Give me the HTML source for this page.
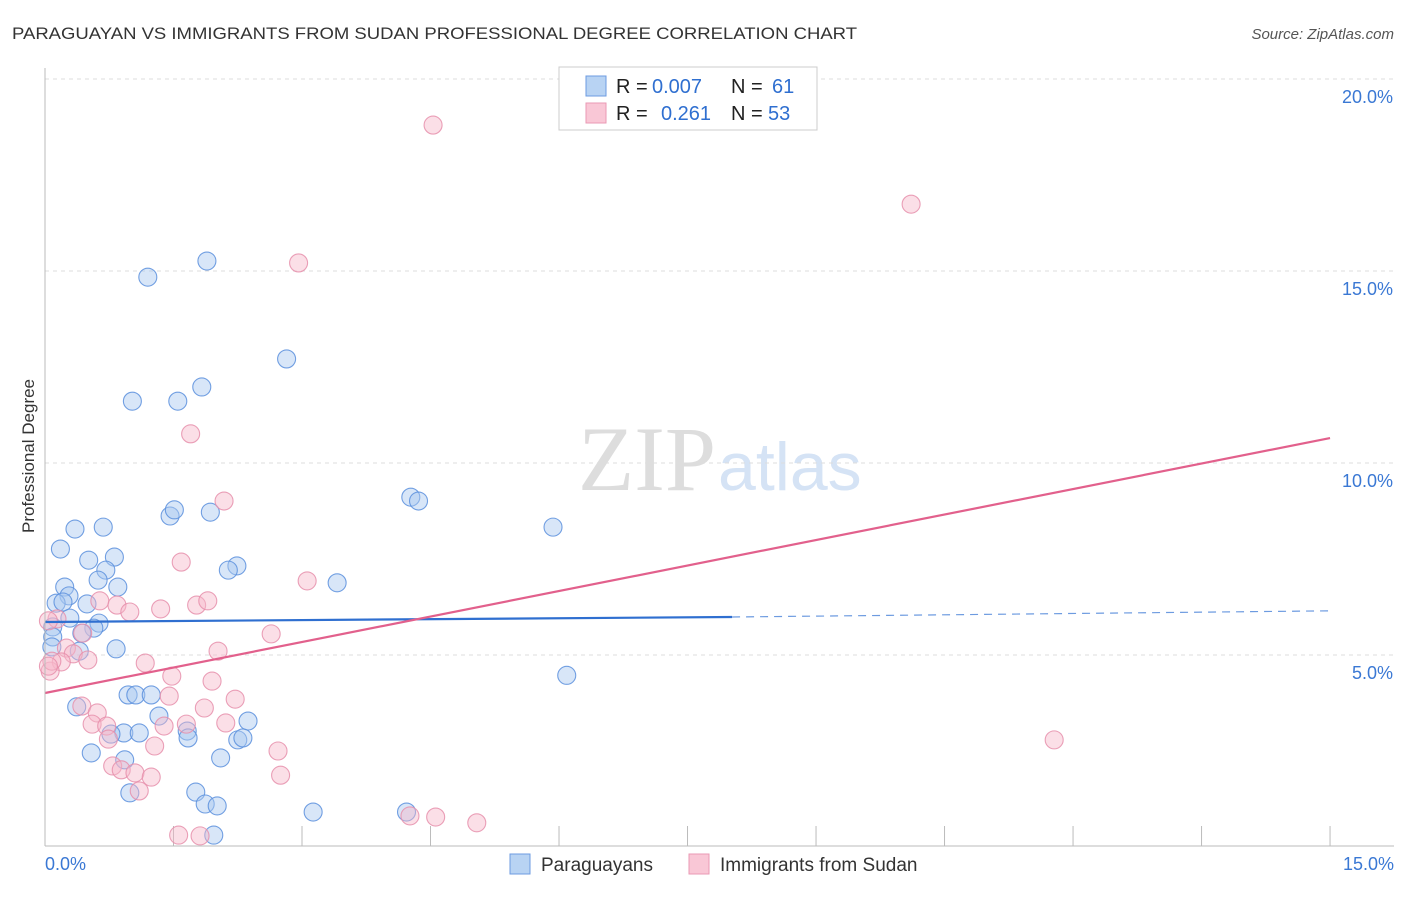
<!DOCTYPE html>
<html><head><meta charset="utf-8"><style>
body{margin:0;background:#fff;font-family:"Liberation Sans",sans-serif}
</style></head><body>
<svg id="c" width="1406" height="892" xmlns="http://www.w3.org/2000/svg" style="font-family:'Liberation Sans',sans-serif">
<text x="12" y="39" font-size="17" fill="#333" textLength="845" lengthAdjust="spacingAndGlyphs">PARAGUAYAN VS IMMIGRANTS FROM SUDAN PROFESSIONAL DEGREE CORRELATION CHART</text>
<text x="1394" y="39" font-size="15" fill="#555" text-anchor="end" font-style="italic">Source: ZipAtlas.com</text>
<text x="34" y="456" font-size="17" fill="#333" text-anchor="middle" transform="rotate(-90 34 456)">Professional Degree</text>
<text x="716" y="490" font-size="92" fill="#ddd" text-anchor="end" font-family="Liberation Serif">ZIP</text>
<text x="718" y="490" font-size="68" fill="#d5e3f5">atlas</text>
<g id="grid"></g><g id="pts"></g><g id="lines"></g>
<line x1="45" y1="68" x2="45" y2="846" stroke="#bbb"/>
<line x1="45" y1="846" x2="1394" y2="846" stroke="#bbb"/>
<g font-size="20">
<rect x="559" y="67" width="258" height="63" fill="#fff" stroke="#ccc"/>
<rect x="586" y="76" width="20" height="20" fill="#b8d3f3" stroke="#6d9be0"/>
<rect x="586" y="103" width="20" height="20" fill="#f9c7d6" stroke="#ea9ab4"/>
<text x="616" y="93" fill="#222">R =</text>
<text x="652" y="93" fill="#2f6fd0">0.007</text>
<text x="731" y="93" fill="#222">N =</text>
<text x="772" y="93" fill="#2f6fd0">61</text>
<text x="616" y="120" fill="#222">R =</text>
<text x="661" y="120" fill="#2f6fd0">0.261</text>
<text x="731" y="120" fill="#222">N =</text>
<text x="768" y="120" fill="#2f6fd0">53</text>
</g>
<g>
<rect x="510" y="854" width="20" height="20" fill="#b8d3f3" stroke="#6d9be0"/>
<text x="541" y="871" font-size="19" fill="#333">Paraguayans</text>
<rect x="689" y="854" width="20" height="20" fill="#f9c7d6" stroke="#ea9ab4"/>
<text x="720" y="871" font-size="19" fill="#333">Immigrants from Sudan</text>
</g>
<text x="45" y="870" font-size="18" fill="#3a78d4">0.0%</text>
<text x="1394" y="870" font-size="18" fill="#3a78d4" text-anchor="end">15.0%</text>
</svg>
<script>
const yTicks=[5,10,15,20];
const yTickLabels=["5.0%","10.0%","15.0%","20.0%"];
const blueX=[1.2,1.89,2.82,1.83,1.02,1.55,4.27,4.36,1.93,1.46,1.51,5.93,0.35,0.68,0.18,0.51,0.81,0.71,2.24,2.14,0.62,0.23,0.85,3.41,0.28,0.13,0.21,0.49,0.29,0.63,0.57,0.43,0.09,0.09,0.4,0.83,6.09,0.97,1.06,1.24,0.37,1.33,2.37,1.66,0.92,1.1,0.77,1.67,2.25,2.31,0.54,0.93,2.05,0.99,1.76,1.87,2.01,3.13,4.22,1.97,0.08];
const blueY=[14.84,15.26,12.71,11.98,11.61,11.61,9.11,9.01,8.72,8.62,8.78,8.33,8.28,8.33,7.76,7.47,7.55,7.21,7.32,7.21,6.95,6.77,6.77,6.88,6.54,6.35,6.38,6.33,5.96,5.83,5.70,5.57,5.73,5.47,5.10,5.16,4.47,3.96,3.96,3.96,3.65,3.41,3.28,3.02,2.97,2.97,2.94,2.84,2.79,2.84,2.45,2.27,2.32,1.41,1.43,1.12,1.07,0.91,0.91,0.31,5.21];
const pinkX=[4.53,10.11,2.96,1.70,2.09,1.59,3.06,0.64,0.84,0.99,1.35,1.77,1.90,2.64,0.44,0.14,0.04,0.25,0.33,0.5,1.17,2.02,0.19,1.48,1.95,1.45,2.22,0.43,1.86,0.61,0.55,0.72,1.39,1.65,2.11,0.74,1.28,2.72,11.78,0.79,0.89,1.05,1.24,2.75,1.1,1.56,1.81,4.26,4.56,5.04,0.06,0.08,0.04];
const pinkY=[18.8,16.74,15.21,10.76,9.01,7.42,6.93,6.41,6.30,6.12,6.20,6.30,6.41,5.55,5.57,5.94,5.89,5.18,5.03,4.87,4.79,5.10,4.82,4.45,4.32,3.93,3.85,3.67,3.62,3.49,3.2,3.15,3.15,3.2,3.23,2.81,2.63,2.5,2.79,2.11,2.01,1.93,1.82,1.87,1.46,0.31,0.29,0.81,0.78,0.63,4.58,4.84,4.71];
const X0=45,XS=85.67,Y0=847,YS=38.4;
const sx=v=>X0+v*XS, sy=v=>Y0-v*YS;
const NS="http://www.w3.org/2000/svg";
const grid=document.getElementById('grid');
yTicks.forEach((t,i)=>{
 const l=document.createElementNS(NS,'line');
 
 
 l.setAttribute('x1',45);l.setAttribute('x2',1394);l.setAttribute('y1',sy(t));l.setAttribute('y2',sy(t));
 l.setAttribute('stroke','#ddd');l.setAttribute('stroke-dasharray','4,4');grid.appendChild(l);
 const tx=document.createElementNS(NS,'text');
 
 
 tx.setAttribute('x',1393);tx.setAttribute('y',sy(t)+24);tx.setAttribute('text-anchor','end');
 tx.setAttribute('font-size','18');tx.setAttribute('fill','#3a78d4');tx.textContent=yTickLabels[i];grid.appendChild(tx);
});
for(let i=0;i<=10;i++){
 const l=document.createElementNS(NS,'line');
 
 
 const x=sx(i*1.5);
 l.setAttribute('x1',x);l.setAttribute('x2',x);l.setAttribute('y1',826);l.setAttribute('y2',846);l.setAttribute('stroke','#bbb');grid.appendChild(l);
}
const pts=document.getElementById('pts');
function dots(xs,ys,fill,stroke,name){
 xs.forEach((v,i)=>{
  const c=document.createElementNS(NS,'circle');
  
  
  c.setAttribute('cx',sx(v));c.setAttribute('cy',sy(ys[i]));c.setAttribute('r',9);
  c.setAttribute('fill',fill);c.setAttribute('fill-opacity','0.45');c.setAttribute('stroke',stroke);c.setAttribute('stroke-opacity','0.85');c.setAttribute('stroke-width','1.1');
  pts.appendChild(c);
 });
}
dots(blueX,blueY,'#a9c8ef','#5b8fdd','paraguayan-point');
dots(pinkX,pinkY,'#f7b7ca','#e68fac','sudan-point');
const lines=document.getElementById('lines');
function ln(x1,y1,x2,y2,col,w,dash,name){
 const l=document.createElementNS(NS,'line');
 
 
 l.setAttribute('x1',sx(x1));l.setAttribute('y1',sy(y1));l.setAttribute('x2',sx(x2));l.setAttribute('y2',sy(y2));
 l.setAttribute('stroke',col);l.setAttribute('stroke-width',w);if(dash)l.setAttribute('stroke-dasharray',dash);lines.appendChild(l);
}
ln(0,5.86,8.02,5.99,'#2f6fd0',2.2,null,'paraguayan-trend');
ln(8.02,5.99,15,6.15,'#6d9be0',1.2,'8,6','paraguayan-trend-extrapolated');
ln(0,4.01,15,10.65,'#e2608c',2.2,null,'sudan-trend');
</script>
</body></html>
